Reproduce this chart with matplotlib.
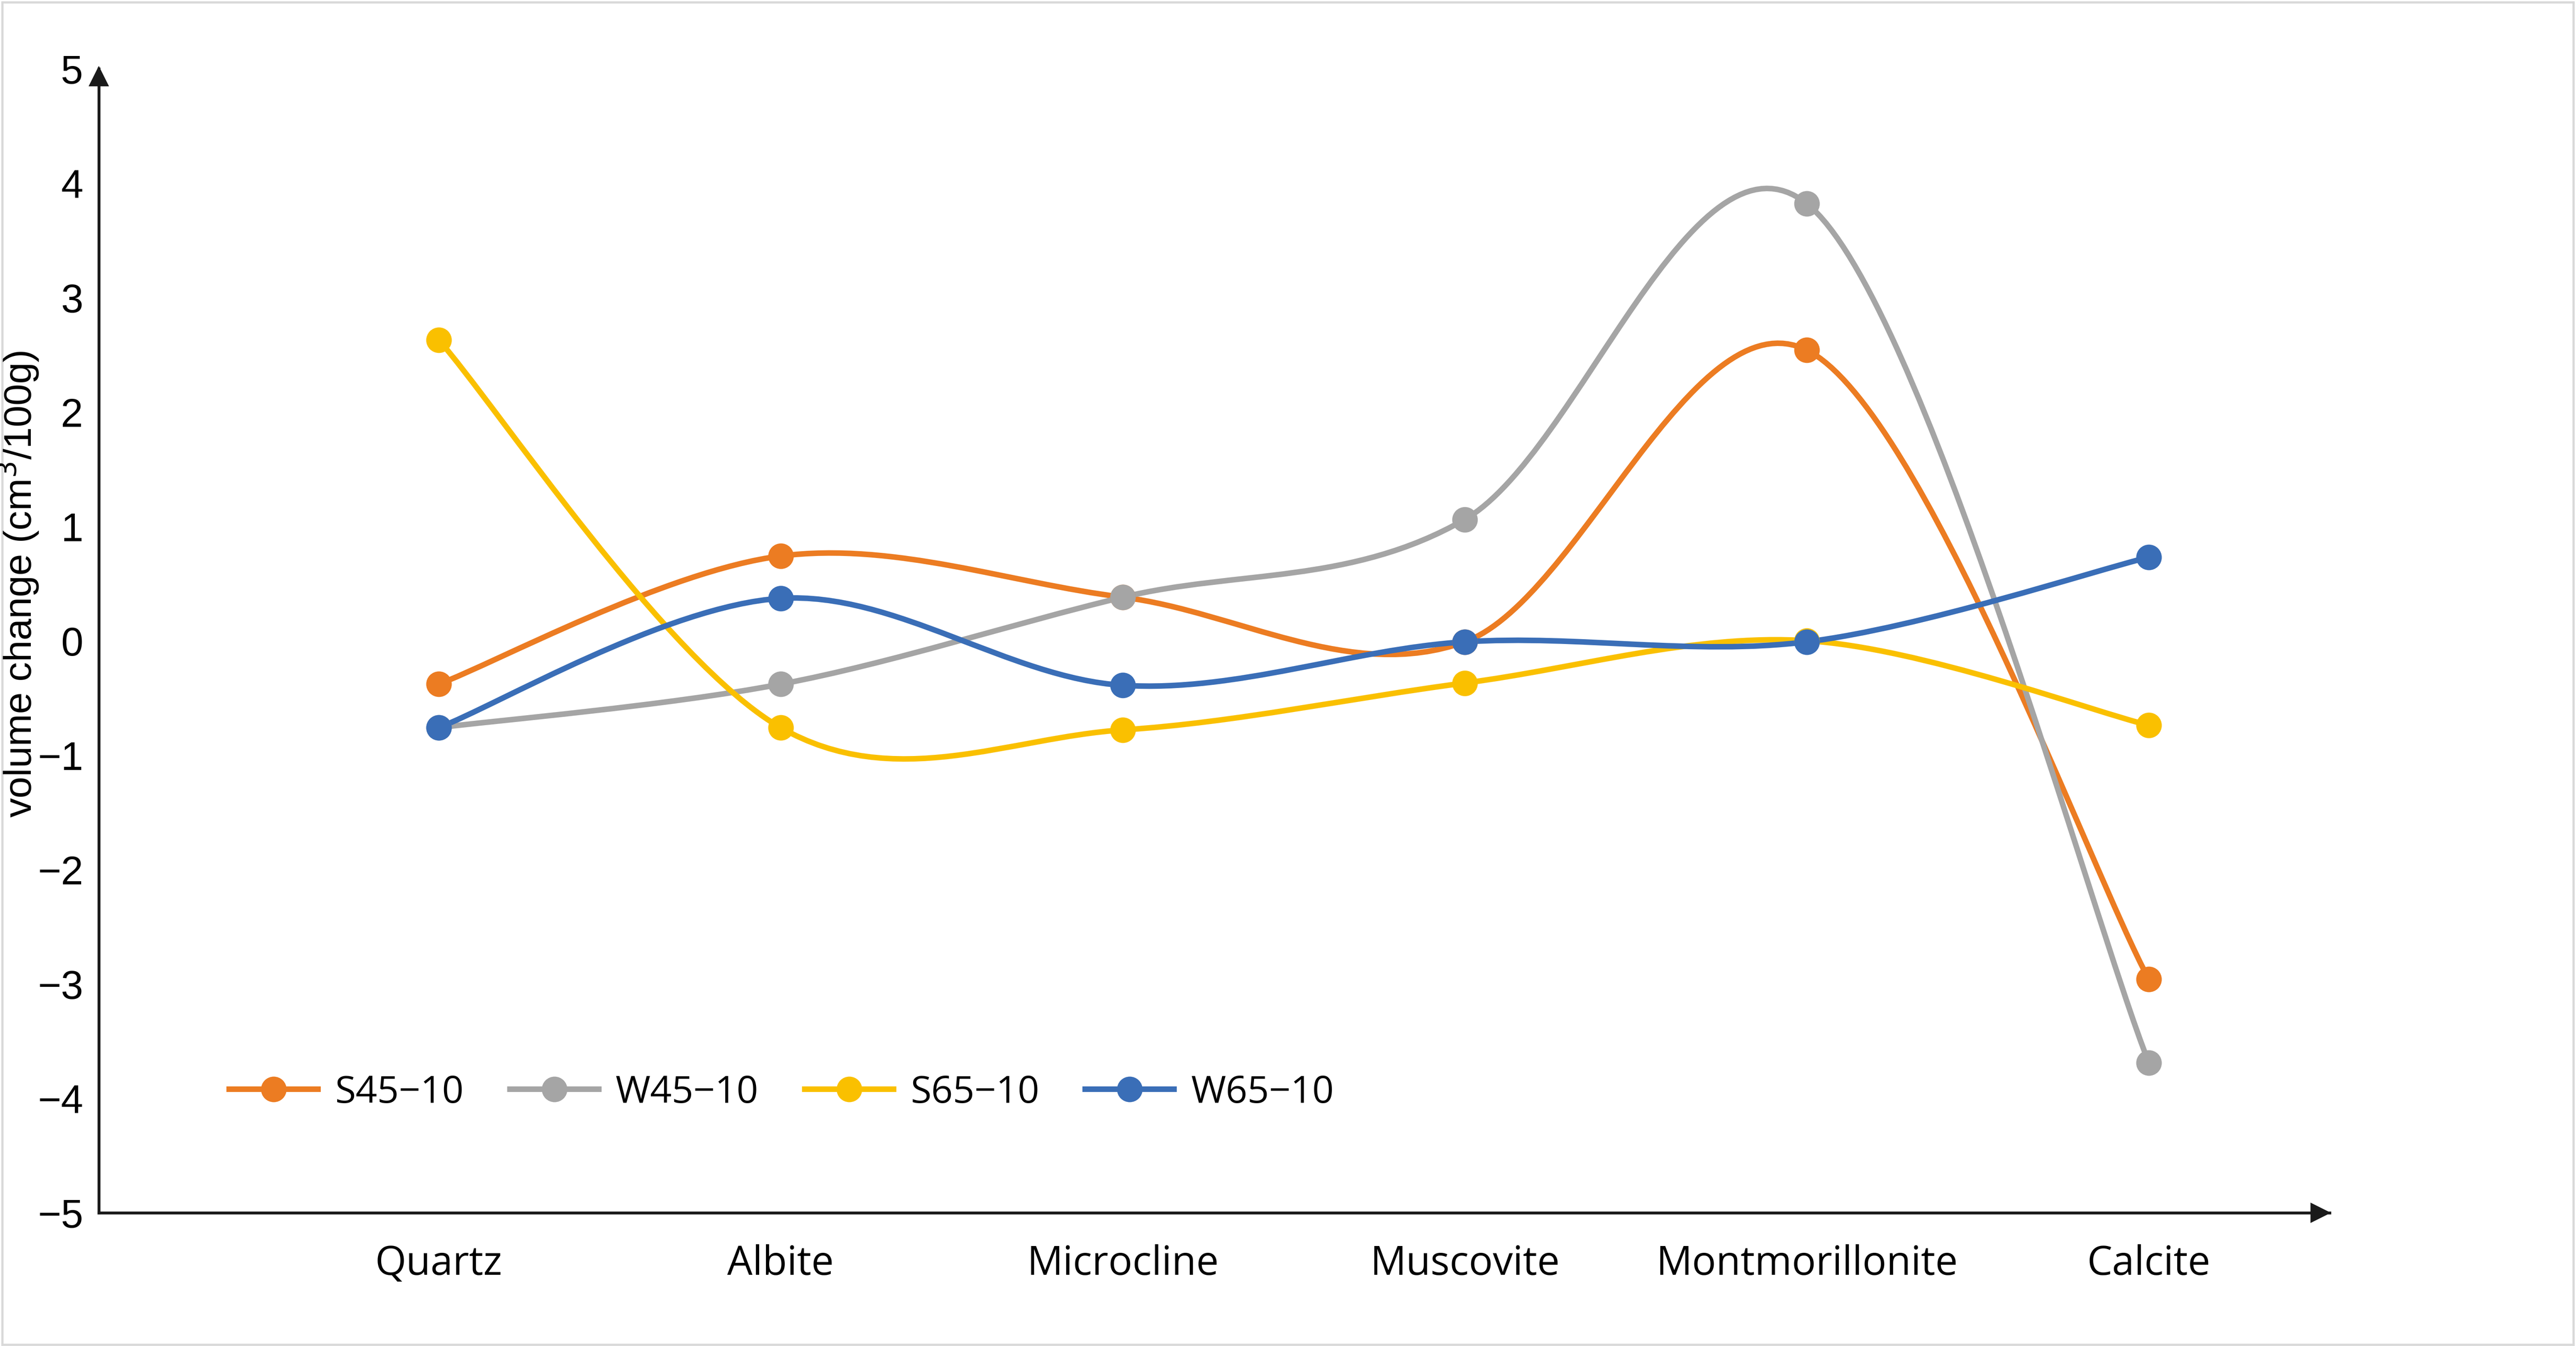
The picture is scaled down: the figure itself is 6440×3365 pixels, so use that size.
import numpy as np
import matplotlib
matplotlib.use("Agg")
import matplotlib.pyplot as plt
from matplotlib.path import Path
from matplotlib.patches import PathPatch, Rectangle

plt.rcParams['font.family'] = ['Liberation Sans', 'DejaVu Sans']

minerals = ["Quartz", "Albite", "Microcline", "Muscovite", "Montmorillonite", "Calcite"]

s45_10 = [-0.38, 0.74, 0.38, -0.01, 2.54, -2.96]
w45_10 = [-0.76, -0.38, 0.38, 1.06, 3.82, -3.69]
s65_10 = [2.63, -0.76, -0.78, -0.37, 0.00, -0.74]
w65_10 = [-0.76, 0.37, -0.39, -0.01, -0.01, 0.73]

series = [
    ("S45\u221210", s45_10, "#EC7C22"),
    ("W45\u221210", w45_10, "#A5A5A5"),
    ("S65\u221210", s65_10, "#FAC000"),
    ("W65\u221210", w65_10, "#3A6EB7"),
]


def smooth_path(x, y):
    # Excel-like smoothed line: Catmull-Rom segments as cubic Bezier curves
    pts = np.column_stack([x, y]).astype(float)
    n = len(pts)
    verts = [pts[0]]
    codes = [Path.MOVETO]
    for i in range(n - 1):
        p0 = pts[i - 1] if i > 0 else pts[i]
        p1 = pts[i]
        p2 = pts[i + 1]
        p3 = pts[i + 2] if i + 2 < n else pts[i + 1]
        c1 = p1 + (p2 - p0) / 6.0
        c2 = p2 - (p3 - p1) / 6.0
        verts += [c1, c2, p2]
        codes += [Path.CURVE4] * 3
    return Path(verts, codes)


fig = plt.figure(figsize=(16.1, 8.415), dpi=400)
ax = fig.add_axes([0.0383, 0.099, 0.866, 0.8497])

xpos = np.arange(len(minerals))
for name, vals, color in series:
    patch = PathPatch(smooth_path(xpos, vals), facecolor='none', edgecolor=color,
                      lw=2.5, capstyle='round', zorder=2)
    ax.add_patch(patch)
    ax.plot(xpos, vals, 'o', color=color, markersize=10.5, zorder=3)
    ax.plot([], [], '-o', color=color, lw=2.5, markersize=10.5, label=name)

ax.set_xlim(-0.994, 5.528)
ax.set_ylim(-5, 5)
ax.set_yticks(np.arange(-5, 6, 1))
ax.set_xticks(xpos)
ax.set_xticklabels(minerals, fontfamily='Open Sans', fontsize=18)
ax.tick_params(axis='both', length=0)
ax.tick_params(axis='y', labelsize=18, pad=7)
ax.tick_params(axis='x', pad=14)

for s in ['top', 'right']:
    ax.spines[s].set_visible(False)
for s in ['left', 'bottom']:
    ax.spines[s].set_linewidth(1.3)
    ax.spines[s].set_color('#1a1a1a')

# arrow heads on the axes
ax.plot([0], [0.993], marker='^', color='#1a1a1a', markersize=7.5,
        transform=ax.transAxes, clip_on=False)
ax.plot([0.9957], [0], marker='>', color='#1a1a1a', markersize=7.5,
        transform=ax.transAxes, clip_on=False)

fig.text(11 / 1568, 1 - 355 / 818, 'volume change (cm$^{3}$/100g)', rotation=90,
         ha='center', va='center', fontsize=17.5)

fig.legend(loc='center left', bbox_to_anchor=(128 / 1568, 1 - 664 / 818),
           bbox_transform=fig.transFigure, ncol=4, frameon=False, borderpad=0,
           prop={'family': 'Open Sans', 'size': 17},
           handlelength=2.35, handletextpad=0.45, columnspacing=1.22)

fig.patches.append(Rectangle((0.001, 0.001), 0.998, 0.997, transform=fig.transFigure,
                             fill=False, edgecolor='#d9d9d9', lw=1.0))

fig.savefig('out.png', dpi=400, facecolor='white')
